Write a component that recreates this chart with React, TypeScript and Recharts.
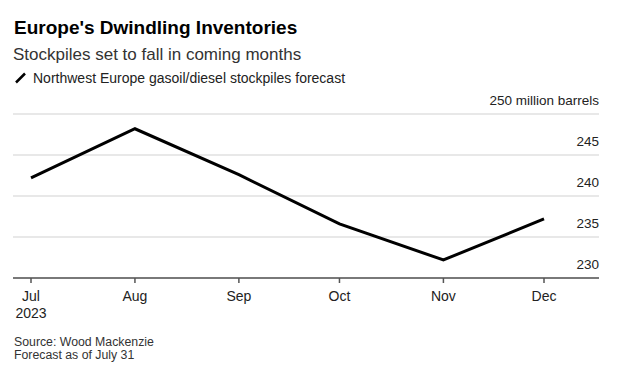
import { LineChart, Line, XAxis, YAxis, CartesianGrid } from 'recharts';

// days since Jul 1 2023, so the month ticks follow a real time scale
const monthLabels = ['Jul', 'Aug', 'Sep', 'Oct', 'Nov', 'Dec'];
const monthDays = [0, 31, 62, 92, 123, 153];
const stockpiles = [242.2, 248.2, 242.6, 236.6, 232.2, 237.2];
const yTicks = [230, 235, 240, 245, 250];

const chartData = monthDays.map((day, i) => ({
  day,
  month: monthLabels[i],
  value: stockpiles[i],
}));

const FONT = '"Liberation Sans", Arial, Helvetica, sans-serif';

const YTick = (props: any) => {
  const { x, y, payload } = props;
  const label = payload.value === 250 ? '250 million barrels' : String(payload.value);
  return (
    <text x={x} y={y} dy={-9} textAnchor="end" fontSize={13.5} fill="#222" fontFamily={FONT}>
      {label}
    </text>
  );
};

const XTick = (props: any) => {
  const { x, y, payload } = props;
  const idx = monthDays.indexOf(payload.value);
  return (
    <g>
      <text x={x} y={y} dy={10} textAnchor="middle" fontSize={14} fill="#222" fontFamily={FONT}>
        {monthLabels[idx]}
      </text>
      {idx === 0 && (
        <text x={x} y={y} dy={26.7} textAnchor="middle" fontSize={14} fill="#222" fontFamily={FONT}>
          2023
        </text>
      )}
    </g>
  );
};

export default function App() {
  return (
    <div style={{ position: 'absolute', left: 0, top: 0, width: 640, height: 374, background: '#fff', fontFamily: FONT }}>
      <div style={{ position: 'absolute', left: 14, top: 18, fontSize: 19, lineHeight: 1, fontWeight: 700, color: '#000' }}>
        Europe's Dwindling Inventories
      </div>
      <div style={{ position: 'absolute', left: 13, top: 46, fontSize: 17, lineHeight: 1, color: '#333' }}>
        Stockpiles set to fall in coming months
      </div>
      <div style={{ position: 'absolute', left: 14, top: 71, fontSize: 14, lineHeight: 1, color: '#222', display: 'flex', alignItems: 'center' }}>
        <svg width={14} height={12} style={{ marginRight: 5 }}>
          <line x1={2} y1={10.5} x2={11} y2={1.5} stroke="#000" strokeWidth={2.5} />
        </svg>
        Northwest Europe gasoil/diesel stockpiles forecast
      </div>

      <LineChart
        width={640}
        height={374}
        data={chartData}
        margin={{ top: 114, right: 40, bottom: 66, left: 13 }}
      >
        <CartesianGrid horizontal vertical={false} stroke="#e0e0e0" strokeWidth={1.5} />
        <XAxis
          dataKey="day"
          type="number"
          domain={[0, 153]}
          ticks={monthDays}
          padding={{ left: 18, right: 55 }}
          height={30}
          stroke="#555"
          strokeWidth={1.5}
          tickSize={5}
          tickMargin={8}
          tick={<XTick />}
          interval={0}
        />
        <YAxis
          orientation="right"
          width={1}
          domain={[230, 250]}
          ticks={yTicks}
          axisLine={false}
          tickLine={false}
          tickSize={0}
          tickMargin={0}
          tick={<YTick />}
          interval={0}
        />
        <Line
          type="linear"
          dataKey="value"
          stroke="#000"
          strokeWidth={3}
          dot={false}
          isAnimationActive={false}
        />
      </LineChart>

      <div style={{ position: 'absolute', left: 14, top: 336, fontSize: 12.3, lineHeight: '13.3px', color: '#333' }}>
        Source: Wood Mackenzie
        <br />
        Forecast as of July 31
      </div>
    </div>
  );
}
